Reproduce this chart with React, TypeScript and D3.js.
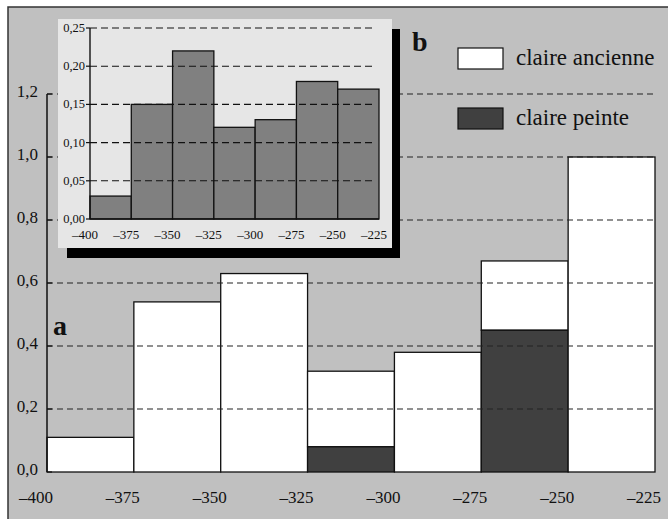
import React from "react";
import * as d3 from "d3";

const binEdges = [-400, -375, -350, -325, -300, -275, -250, -225];
const claireAncienne = [0.11, 0.54, 0.63, 0.24, 0.38, 0.22, 1.0];
const clairePeinte = [0, 0, 0, 0.08, 0, 0.45, 0];
const insetValues = [0.03, 0.15, 0.22, 0.12, 0.13, 0.18, 0.17];
const mainYTicks = [0, 0.2, 0.4, 0.6, 0.8, 1.0, 1.2];
const insetYTicks = [0, 0.05, 0.1, 0.15, 0.2, 0.25];
const legendLabels = ["claire ancienne", "claire peinte"];

const loc = d3.formatLocale({ decimal: ",", thousands: " ", grouping: [3], currency: ["", ""], minus: "\u2013" });
const fmt1 = loc.format(".1f");
const fmt2 = loc.format(".2f");
const fmtX = loc.format("d");

const FONT = '"Liberation Serif", "DejaVu Serif", "Times New Roman", serif';

export default function App() {
  // main chart scales
  const x = d3.scaleLinear().domain([-400, -225]).range([47, 655]);
  const y = d3.scaleLinear().domain([0, 1]).range([472, 157]);
  // inset scales
  const xi = d3.scaleLinear().domain([-400, -225]).range([90, 379]);
  const yi = d3.scaleLinear().domain([0, 0.25]).range([219, 28]);

  const bins = claireAncienne.map((a, i) => ({
    x0: binEdges[i],
    x1: binEdges[i + 1],
    peinte: clairePeinte[i],
    total: clairePeinte[i] + a,
  }));
  const insetBins = insetValues.map((v, i) => ({ x0: binEdges[i], x1: binEdges[i + 1], v }));

  return (
    <svg width={668} height={519} style={{ position: "absolute", left: 0, top: 0, fontFamily: FONT }}>
      <rect x={0} y={0} width={668} height={519} fill="#fff" />
      <rect x={8} y={7} width={670} height={530} fill="#c0c0c0" stroke="#333" strokeWidth={1.5} />

      {/* main bars */}
      {bins.map((b, i) => (
        <g key={i}>
          <rect x={x(b.x0)} y={y(b.total)} width={x(b.x1) - x(b.x0)} height={y(b.peinte) - y(b.total)}
            fill="#fff" stroke="#111" strokeWidth={1.3} />
          {b.peinte > 0 && (
            <rect x={x(b.x0)} y={y(b.peinte)} width={x(b.x1) - x(b.x0)} height={y(0) - y(b.peinte)}
              fill="#404040" stroke="#111" strokeWidth={1.3} />
          )}
        </g>
      ))}

      {/* main grid */}
      {mainYTicks.filter((t) => t > 0).map((t) => (
        <line key={t} x1={x(-400)} x2={x(-225)} y1={y(t)} y2={y(t)} stroke="#222" strokeWidth={1.1} strokeDasharray="6,4" />
      ))}

      {/* main y axis */}
      <line x1={x(-400)} x2={x(-400)} y1={y(1.2)} y2={y(0)} stroke="#111" strokeWidth={1.5} />
      {mainYTicks.map((t) => (
        <g key={t}>
          <line x1={x(-400)} x2={x(-400) + 5} y1={y(t)} y2={y(t)} stroke="#111" strokeWidth={1.2} />
          <text x={38} y={y(t) + 3} textAnchor="end" fontSize={17} fill="#111">{fmt1(t)}</text>
        </g>
      ))}
      {binEdges.map((v) => (
        <text key={v} x={x(v) - 11} y={503} textAnchor="middle" fontSize={17} fill="#111">{fmtX(v)}</text>
      ))}

      {/* inset */}
      <rect x={67} y={29} width={333} height={229} fill="#000" />
      <rect x={58} y={19} width={334} height={229} fill="#e6e6e6" />
      {insetBins.map((b, i) => (
        <rect key={i} x={xi(b.x0)} y={yi(b.v)} width={xi(b.x1) - xi(b.x0)} height={yi(0) - yi(b.v)}
          fill="#808080" stroke="#111" strokeWidth={1.3} />
      ))}
      {insetYTicks.filter((t) => t > 0).map((t) => (
        <line key={t} x1={xi(-400)} x2={xi(-225) - 4} y1={yi(t)} y2={yi(t)} stroke="#111" strokeWidth={1.1} strokeDasharray="7,4" />
      ))}
      <line x1={xi(-400)} x2={xi(-400)} y1={yi(0.25)} y2={yi(0)} stroke="#111" strokeWidth={1.4} />
      <line x1={xi(-400)} x2={xi(-225)} y1={yi(0)} y2={yi(0)} stroke="#111" strokeWidth={1.4} />
      {insetYTicks.map((t) => (
        <g key={t}>
          <line x1={xi(-400) - 4} x2={xi(-400)} y1={yi(t)} y2={yi(t)} stroke="#111" strokeWidth={1.2} />
          <text x={85} y={yi(t) + 4} textAnchor="end" fontSize={12.5} fill="#111">{fmt2(t)}</text>
        </g>
      ))}
      {binEdges.map((v) => (
        <text key={v} x={xi(v) - 5} y={239} textAnchor="middle" fontSize={13} fill="#111">{fmtX(v)}</text>
      ))}

      {/* legend */}
      {legendLabels.map((l, i) => (
        <g key={l} transform={`translate(458, ${48 + i * 60})`}>
          <rect x={0} y={0} width={45} height={21} fill={i === 0 ? "#fff" : "#404040"} stroke="#111" strokeWidth={1.2} />
          <text x={58} y={17} fontSize={23} fill="#111">{l}</text>
        </g>
      ))}

      {/* panel letters */}
      <text x={412} y={51} fontSize={28} fontWeight="bold" fill="#111">b</text>
      <text x={53} y={335} fontSize={28} fontWeight="bold" fill="#111">a</text>
    </svg>
  );
}
